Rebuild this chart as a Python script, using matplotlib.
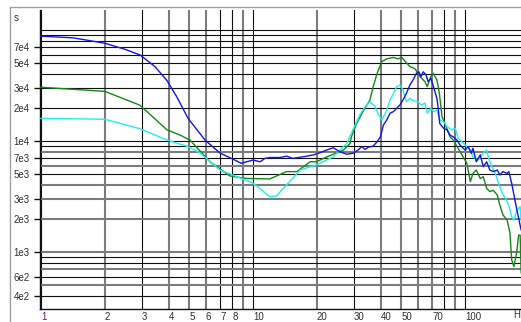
import matplotlib
matplotlib.use("Agg")
import matplotlib.pyplot as plt
from matplotlib.lines import Line2D

plt.rcParams['font.family'] = ['Liberation Sans', 'DejaVu Sans']

# --- data: frequency (Hz) / level ---
blue_f = [1.0, 1.42, 2.0, 2.49, 2.93, 3.45, 3.93, 4.37, 4.94, 5.94, 6.98, 8.0, 8.8, 10.0,
          10.8, 11.4, 12.0, 13.4, 14.4, 15.4, 17.2, 19.3, 20.7, 22.3, 23.9, 25.7, 27.7,
          29.6, 31.3, 32.6, 33.8, 35.0, 36.9, 38.5, 39.9, 41.2, 42.8, 44.3, 46.0, 47.6,
          49.3, 51.0, 52.9, 55.0, 56.9, 59.0, 60.6, 62.0, 63.5, 65.5, 67.0, 69.0, 71.0,
          73.7, 74.6, 76.0, 79.3, 82.3, 85.0, 88.0, 91.6, 94.7, 100, 103.6, 107, 109,
          113, 118, 122, 126.5, 131, 136, 142, 146, 151, 158, 161, 166, 172, 176.5, 184]
blue_v = [8.8e4, 8.5e4, 7.6e4, 6.7e4, 5.96e4, 4.68e4, 3.5e4, 2.5e4, 1.6e4, 1.02e4, 7.8e3,
          6.9e3, 6.3e3, 6.74e3, 6.5e3, 6.98e3, 7.1e3, 7.1e3, 7.3e3, 6.98e3, 7.2e3, 7.5e3,
          7.85e3, 8.3e3, 8.7e3, 8.0e3, 7.6e3, 7.75e3, 8.3e3, 8.9e3, 8.4e3, 8.8e3, 9.0e3,
          9.85e3, 1.09e4, 1.39e4, 1.55e4, 1.78e4, 1.84e4, 1.97e4, 2.11e4, 2.34e4, 2.69e4,
          3.2e4, 3.55e4, 4.07e4, 4.2e4, 3.8e4, 4.2e4, 3.93e4, 3.42e4, 3.67e4, 3.09e4,
          2.42e4, 2.04e4, 1.44e4, 1.3e4, 1.26e4, 1.13e4, 1.09e4, 1.02e4, 9.2e3, 8.3e3,
          8.9e3, 7.75e3, 8.6e3, 6.5e3, 7.5e3, 5.87e3, 6.5e3, 5.48e3, 5.3e3, 5.48e3,
          4.94e3, 5.3e3, 5.1e3, 5.3e3, 4.16e3, 2.94e3, 2.3e3, 1.58e3]

green_f = [1.0, 2.0, 2.93, 3.93, 4.53, 5.04, 6.27, 7.79, 9.3, 12.0, 14.4, 16.1, 18.6, 19.9,
           22.3, 24.8, 26.7, 28.7, 29.1, 30.8, 33.0, 35.6, 36.9, 38.5, 40.5, 42.8, 46.0,
           48.3, 50.3, 52.3, 55.0, 58.0, 61.4, 64.8, 66.3, 69.0, 70.8, 73.7, 75.7, 77.9,
           81.0, 85.0, 88.0, 92.8, 98.0, 102, 106, 109, 113, 118, 122, 126.5, 131, 136,
           142, 146, 151, 158, 163, 166, 170, 175, 179, 182, 184]
green_v = [3.05e4, 2.8e4, 2.1e4, 1.26e4, 1.13e4, 1.02e4, 6.5e3, 4.84e3, 4.6e3, 4.55e3,
           5.3e3, 5.3e3, 6.5e3, 6.5e3, 7.2e3, 7.8e3, 8.3e3, 9.5e3, 1.09e4, 1.44e4, 1.84e4,
           2.34e4, 3.09e4, 4.07e4, 5.2e4, 5.5e4, 5.66e4, 5.5e4, 5.66e4, 5.2e4, 4.67e4,
           4.5e4, 3.8e4, 3.42e4, 3.09e4, 3.8e4, 4.07e4, 3.55e4, 2.69e4, 1.66e4, 1.39e4,
           1.09e4, 1.02e4, 8.6e3, 7.2e3, 6.3e3, 4.3e3, 5.1e3, 5.48e3, 4.6e3, 4.77e3,
           3.74e3, 3.5e3, 3.6e3, 3.26e3, 2.65e3, 2.16e3, 1.94e3, 1.48e3, 8.5e2, 7.4e2,
           9.7e2, 1.42e3, 1.42e3, 6.5e2]

cyan_f = [1.0, 2.0, 2.93, 3.93, 4.94, 5.63, 6.98, 8.4, 10.05, 12.0, 12.9, 14.4, 16.7, 19.9,
          23.9, 25.7, 27.7, 29.6, 31.9, 33.8, 35.6, 37.7, 39.1, 40.6, 42.8, 44.3, 46.0,
          47.6, 49.3, 51.0, 52.9, 55.0, 56.9, 60.0, 62.0, 64.8, 66.3, 69.0, 71.5, 73.7,
          76.2, 79.3, 82.3, 86.5, 90.0, 92.8, 94.7, 102, 106, 109, 115, 122, 126.5, 130,
          134, 139, 145, 150, 155, 161, 166, 170, 176, 182, 184]
cyan_v = [1.6e4, 1.57e4, 1.29e4, 1.02e4, 8.9e3, 7.8e3, 5.48e3, 4.77e3, 4.16e3, 3.15e3,
          3.2e3, 4.02e3, 5.48e3, 6.1e3, 7.2e3, 8.3e3, 9.5e3, 1.26e4, 1.72e4, 2.04e4,
          2.26e4, 2.04e4, 1.72e4, 1.55e4, 1.9e4, 2.34e4, 2.69e4, 3.09e4, 3.2e4, 2.88e4,
          2.26e4, 2.42e4, 2.31e4, 2.26e4, 2.11e4, 2.19e4, 1.78e4, 1.97e4, 1.84e4, 1.9e4,
          1.55e4, 1.49e4, 1.35e4, 1.26e4, 1.3e4, 1.06e4, 1.02e4, 8.9e3, 8.3e3, 7.2e3,
          6.74e3, 7.8e3, 8.3e3, 6.74e3, 5.87e3, 5.1e3, 4.02e3, 3.38e3, 3.05e3, 2.65e3,
          2.08e3, 1.94e3, 2.39e3, 2.56e3, 1.94e3]

# axis ticks / grid
x_ticks = [1, 2, 3, 4, 5, 6, 7, 8, 10, 20, 30, 40, 50, 70, 100]
x_tick_labels = ['1', '2', '3', '4', '5', '6', '7', '8', '10', '20', '30', '40', '50', '70', '100']
y_ticks = [7e4, 5e4, 3e4, 2e4, 1e4, 7e3, 5e3, 3e3, 2e3, 1e3, 6e2, 4e2]
y_tick_labels = ['7e4', '5e4', '3e4', '2e4', '1e4', '7e3', '5e3', '3e3', '2e3', '1e3', '6e2', '4e2']

# grid lines: (position, dark?) -- dark lines are thin black, the others soft grey
x_grid = [(1, True), (2, False), (3, True), (4, False), (5, False), (6, False), (7, True),
          (8, True), (9, False), (10, True), (20, False), (30, True), (40, False),
          (50, False), (60, False), (70, False), (80, True), (90, False), (100, True)]
y_grid = [(1e5, True), (9e4, True), (8e4, True), (7e4, True), (6e4, True), (5e4, True),
          (4e4, True), (3e4, True), (2e4, True), (1e4, True), (9e3, True), (8e3, False),
          (7e3, True), (6e3, False), (5e3, True), (4e3, False), (3e3, False), (2e3, False),
          (1e3, False), (9e2, True), (8e2, True), (7e2, False), (6e2, True), (5e2, False),
          (4e2, True)]

W, H = 521, 322
fig = plt.figure(figsize=(W / 100, H / 100), dpi=100)
fig.patch.set_facecolor('white')

# panel border (left/top)
fig.add_artist(Line2D([9.5 / W, 9.5 / W], [0, 1 - 6.5 / H], color='#a0a0a0', lw=1))
fig.add_artist(Line2D([9.5 / W, 1], [1 - 6.5 / H, 1 - 6.5 / H], color='#a0a0a0', lw=1))

ax = fig.add_axes([39.5 / W, 13 / H, (W - 39.5) / W, 299 / H])
ax.set_xscale('log')
ax.set_yscale('log')
ax.set_xlim(10 ** (-1.5 / 212), 10 ** (480 / 212))
ax.set_ylim(10 ** (4 - 168 / 111), 10 ** (4 + 131 / 111))


def grid_style(dark):
    if dark:
        return dict(color='#111111', lw=0.8)
    return dict(color='#7c7c7c', lw=1.5)


for gx, dark in x_grid:
    ax.axvline(gx, zorder=1, **grid_style(dark))
for gy, dark in y_grid:
    ax.axhline(gy, zorder=1, **grid_style(dark))

ax.plot(green_f, green_v, color='#128a12', lw=1.0, zorder=3)
ax.plot(cyan_f, cyan_v, color='#1ef0f0', lw=1.0, zorder=3)
ax.plot(blue_f, blue_v, color='#1414ee', lw=1.0, zorder=4)

for s in ('top', 'right'):
    ax.spines[s].set_visible(False)
ax.spines['left'].set_color('#111111')
ax.spines['bottom'].set_color('#111111')
ax.spines['left'].set_linewidth(1.0)
ax.spines['bottom'].set_linewidth(1.0)

ax.minorticks_off()
ax.set_xticks(x_ticks)
ax.set_xticklabels(x_tick_labels)
ax.set_yticks(y_ticks)
ax.set_yticklabels(y_tick_labels)
ax.tick_params(axis='x', length=0, pad=2, labelsize=7, labelcolor='#303030')
ax.tick_params(axis='y', length=4, width=1, color='#111111', pad=3, labelsize=7,
               labelcolor='#303030', direction='out')
for lbl in ax.get_xticklabels():
    lbl.set_horizontalalignment('left')
ax.get_xticklabels()[0].set_color('#602060')

fig.text(14 / W, 1 - 18 / H, 's', fontsize=7, color='#303030', va='center', ha='left')
fig.text(513 / W, 1 - 315 / H, 'H', fontsize=7, color='#303030', va='center', ha='left')

fig.savefig('out.png', dpi=100)
